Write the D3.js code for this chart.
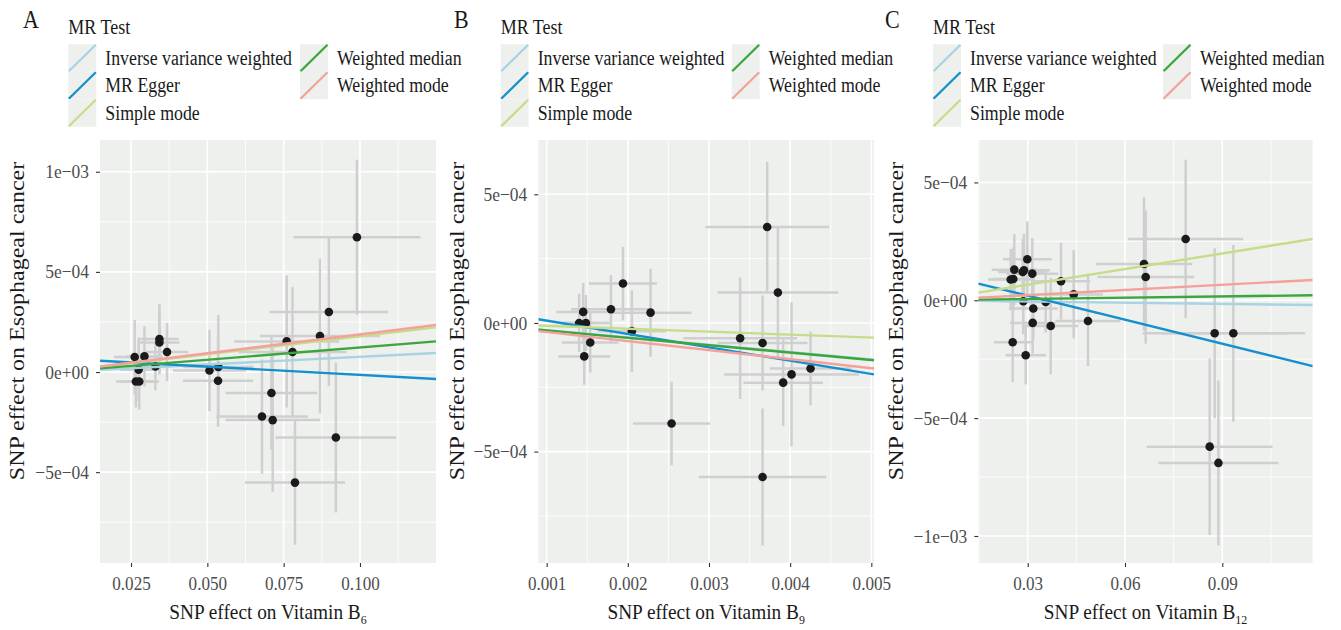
<!DOCTYPE html>
<html>
<head>
<meta charset="utf-8">
<script src="https://cdn.jsdelivr.net/npm/d3@7"></script>
<style>
  body { margin: 0; background: #fff; }
  svg text { font-family: "Liberation Serif", "DejaVu Serif", serif; }
</style>
</head>
<body>
<div id="chart"></div>
<script>
// MR methods, shared by the three panels
var methods = ["Inverse variance weighted", "MR Egger", "Simple mode", "Weighted median", "Weighted mode"];
var methodColors = ["#a8d3e2", "#1590cf", "#c5dd8b", "#3ba63d", "#f4a19b"];

// panel A : vitamin B6
var aX    = [0.0990,0.0898,0.0869,0.0760,0.0779,0.0710,0.0679,0.0714,0.0921,0.0787,0.0507,0.0536,0.0535,0.0343,0.0343,0.0368,0.0262,0.0294,0.0330,0.0275,0.0266,0.0277];
var aXse  = [0.0208,0.0194,0.0197,0.0172,0.0177,0.0150,0.0150,0.0155,0.0198,0.0164,0.0120,0.0115,0.0115,0.0063,0.0066,0.0070,0.0068,0.0060,0.0055,0.0060,0.0065,0.0065];
var aY    = [6.73e-4,3.0e-4,1.8e-4,1.53e-4,1.0e-4,-1.05e-4,-2.22e-4,-2.4e-4,-3.27e-4,-5.52e-4,8e-6,2.5e-5,-4.35e-5,1.65e-4,1.48e-4,1.0e-4,7.5e-5,7.8e-5,2.8e-5,1.2e-5,-4.7e-5,-4.7e-5];
var aYse  = [3.87e-4,3.7e-4,3.87e-4,3.3e-4,3.25e-4,2.83e-4,2.85e-4,3.58e-4,3.74e-4,3.1e-4,2.03e-4,2.6e-4,2.3e-4,1.75e-4,1.6e-4,1.45e-4,1.85e-4,1.5e-4,1.2e-4,1.6e-4,1.3e-4,1.4e-4];
var aSlope = [7.6e-4, -8.31e-4, 1.785e-3, 1.225e-3, 1.88e-3];
var aIntercept = [0, 6.88e-5, 0, 0, 0];
var aXTicks = [0.025, 0.050, 0.075, 0.100];
var aXLabels = ["0.025", "0.050", "0.075", "0.100"];
var aYTicks = [1e-3, 5e-4, 0, -5e-4];
var aYLabels = ["1e\u221203", "5e\u221204", "0e+00", "\u22125e\u221204"];

// panel B : vitamin B9
var bX    = [0.003717,0.003849,0.003384,0.00366,0.003914,0.004017,0.004251,0.00366,0.002539,0.00194,0.001792,0.00228,0.00205,0.00145,0.0014,0.001484,0.001537,0.001463];
var bXse  = [0.000761,0.000745,0.0007,0.000554,0.000489,0.00083,0.0005,0.000784,0.000476,0.000419,0.00049,0.000505,0.00042,0.00033,0.00022,0.00029,0.00035,0.00032];
var bY    = [3.73e-4,1.18e-4,-5.95e-5,-7.8e-5,-2.32e-4,-2.0e-4,-1.77e-4,-5.99e-4,-3.91e-4,1.53e-4,5.3e-5,4.0e-5,-3.2e-5,4.3e-5,0,0,-7.6e-5,-1.3e-4];
var bYse  = [2.53e-4,2.58e-4,2.36e-4,1.85e-4,1.68e-4,2.8e-4,1.43e-4,2.66e-4,1.62e-4,1.43e-4,1.32e-4,1.71e-4,1.59e-4,1.12e-4,1.13e-4,1.09e-4,1.17e-4,1.1e-4];
var bSlope = [-0.0283, -0.05186, -0.01133, -0.0288, -0.03523];
var bIntercept = [0, 6.09e-5, 0, 0, 0];
var bXTicks = [0.001, 0.002, 0.003, 0.004, 0.005];
var bXLabels = ["0.001", "0.002", "0.003", "0.004", "0.005"];
var bYTicks = [5e-4, 0, -5e-4];
var bYLabels = ["5e\u221204", "0e+00", "\u22125e\u221204"];

// panel C : vitamin B12
var cX    = [0.0787,0.06586,0.06638,0.08765,0.0934,0.0861,0.0888,0.02988,0.02587,0.02846,0.02886,0.03142,0.02476,0.02556,0.04027,0.04418,0.02864,0.03555,0.03173,0.03154,0.03709,0.04859,0.02537,0.02938];
var cXse  = [0.01773,0.0149,0.0149,0.02226,0.0222,0.0194,0.0185,0.0075,0.007,0.0075,0.008,0.008,0.007,0.0065,0.009,0.009,0.007,0.008,0.0075,0.007,0.0085,0.01,0.0058,0.0062];
var cY    = [2.6e-4,1.54e-4,9.9e-5,-1.4e-4,-1.4e-4,-6.21e-4,-6.9e-4,1.74e-4,1.3e-4,1.2e-4,1.27e-4,1.13e-4,8.8e-5,9.0e-5,8.1e-5,2.5e-5,-4e-6,-7e-6,-3.5e-5,-9.6e-5,-1.09e-4,-8.8e-5,-1.78e-4,-2.33e-4];
var cYse  = [3.36e-4,2.83e-4,2.83e-4,3.61e-4,3.75e-4,3.75e-4,3.5e-4,1.6e-4,1.5e-4,1.4e-4,1.55e-4,1.5e-4,1.3e-4,1.35e-4,1.63e-4,1.87e-4,1.4e-4,1.3e-4,1.3e-4,1.3e-4,2.05e-4,1.91e-4,1.7e-4,1.24e-4];
var cSlope = [-1.7e-4, -3.395e-3, 2.206e-3, 1.8e-4, 7.3e-4];
var cIntercept = [0, 1.211e-4, 0, 0, 0];
var cXTicks = [0.03, 0.06, 0.09];
var cXLabels = ["0.03", "0.06", "0.09"];
var cYTicks = [5e-4, 0, -5e-4, -1e-3];
var cYLabels = ["5e\u221204", "0e+00", "\u22125e\u221204", "\u22121e\u221203"];

var width = 1341, height = 630;
var panelTop = 140, panelBottom = 563;
var panelBg = "#eef0ee";

var svg = d3.select("#chart").append("svg")
    .attr("width", width)
    .attr("height", height);

// text that looks a bit taller than wide, like the reference
function addText(parent, x, y, str, size, sx, anchor, color) {
  var g = parent.append("g")
      .attr("transform", "translate(" + x + "," + y + ") scale(" + sx + ",1)");
  return g.append("text")
      .attr("font-size", size)
      .attr("text-anchor", anchor || "start")
      .attr("fill", color || "#1a1a1a")
      .text(str);
}

function drawPanel(p) {
  var x = d3.scaleLinear().domain(p.xDomain).range([p.left, p.right]);
  var y = d3.scaleLinear().domain(p.yDomain).range([panelBottom, panelTop]);
  var g = svg.append("g");

  g.append("rect")
    .attr("x", p.left).attr("y", panelTop)
    .attr("width", p.right - p.left).attr("height", panelBottom - panelTop)
    .attr("fill", panelBg);

  // minor gridlines
  g.selectAll(".xminor").data(p.xMinor).enter().append("line")
    .attr("x1", function(d) { return x(d); }).attr("x2", function(d) { return x(d); })
    .attr("y1", panelTop).attr("y2", panelBottom)
    .attr("stroke", "#fff").attr("stroke-width", 0.8);
  g.selectAll(".yminor").data(p.yMinor).enter().append("line")
    .attr("y1", function(d) { return y(d); }).attr("y2", function(d) { return y(d); })
    .attr("x1", p.left).attr("x2", p.right)
    .attr("stroke", "#fff").attr("stroke-width", 0.8);
  // major gridlines
  g.selectAll(".xmajor").data(p.xTicks).enter().append("line")
    .attr("x1", function(d) { return x(d); }).attr("x2", function(d) { return x(d); })
    .attr("y1", panelTop).attr("y2", panelBottom)
    .attr("stroke", "#fff").attr("stroke-width", 1.6);
  g.selectAll(".ymajor").data(p.yTicks).enter().append("line")
    .attr("y1", function(d) { return y(d); }).attr("y2", function(d) { return y(d); })
    .attr("x1", p.left).attr("x2", p.right)
    .attr("stroke", "#fff").attr("stroke-width", 1.6);

  var pts = p.xs.map(function(v, i) {
    return { x: v, xse: p.xse[i], y: p.ys[i], yse: p.yse[i] };
  });

  var clipId = "clip" + p.name;
  svg.append("clipPath").attr("id", clipId).append("rect")
    .attr("x", p.left).attr("y", panelTop)
    .attr("width", p.right - p.left).attr("height", panelBottom - panelTop);
  var inner = g.append("g").attr("clip-path", "url(#" + clipId + ")");

  // error bars
  inner.selectAll(".ev").data(pts).enter().append("line")
    .attr("x1", function(d) { return x(d.x); }).attr("x2", function(d) { return x(d.x); })
    .attr("y1", function(d) { return y(d.y - d.yse); }).attr("y2", function(d) { return y(d.y + d.yse); })
    .attr("stroke", "#cfcfcf").attr("stroke-width", 2.5);
  inner.selectAll(".eh").data(pts).enter().append("line")
    .attr("x1", function(d) { return x(d.x - d.xse); }).attr("x2", function(d) { return x(d.x + d.xse); })
    .attr("y1", function(d) { return y(d.y); }).attr("y2", function(d) { return y(d.y); })
    .attr("stroke", "#cfcfcf").attr("stroke-width", 2.5);

  inner.selectAll(".pt").data(pts).enter().append("circle")
    .attr("cx", function(d) { return x(d.x); })
    .attr("cy", function(d) { return y(d.y); })
    .attr("r", 4.3)
    .attr("fill", "#1a1a1a");

  // fitted MR lines across the panel
  var x0 = p.xDomain[0], x1 = p.xDomain[1];
  methods.forEach(function(m, i) {
    inner.append("line")
      .attr("x1", x(x0)).attr("y1", y(p.intercept[i] + p.slope[i] * x0))
      .attr("x2", x(x1)).attr("y2", y(p.intercept[i] + p.slope[i] * x1))
      .attr("stroke", methodColors[i])
      .attr("stroke-width", 2.4);
  });

  // axes
  var xAxis = g.append("g")
    .attr("transform", "translate(0," + panelBottom + ")")
    .call(d3.axisBottom(x).tickValues(p.xTicks)
      .tickFormat(function(d, i) { return p.xLabels[i]; })
      .tickSize(4).tickPadding(10));
  var yAxis = g.append("g")
    .attr("transform", "translate(" + p.left + ",0)")
    .call(d3.axisLeft(y).tickValues(p.yTicks)
      .tickFormat(function(d, i) { return p.yLabels[i]; })
      .tickSize(4).tickPadding(8));
  [xAxis, yAxis].forEach(function(a) {
    a.select(".domain").remove();
    a.selectAll(".tick line").attr("stroke", "#333").attr("stroke-width", 1.1);
    a.selectAll(".tick text")
      .attr("fill", "#4d4d4d")
      .attr("font-size", 19)
      .attr("font-family", "Liberation Serif, serif");
  });
  xAxis.selectAll(".tick text").attr("transform", "scale(0.9,1)");
  yAxis.selectAll(".tick text").attr("transform", "scale(0.92,1)");

  // x title with subscript
  var cx = (p.left + p.right) / 2;
  var xt = addText(g, cx, 619, "SNP effect on Vitamin B", 21, 0.92, "middle");
  xt.append("tspan").attr("font-size", 13).attr("dy", 5).text(p.sub);

  // y title
  var yt = g.append("g")
    .attr("transform", "translate(" + (p.titleX) + ",321) rotate(-90) scale(1,0.84)");
  yt.append("text")
    .attr("font-size", 24)
    .attr("text-anchor", "middle")
    .attr("fill", "#1a1a1a")
    .text("SNP effect on Esophageal cancer");

  // panel letter
  addText(svg, p.letterX, 28, p.name, 25, 0.88, "start");

  // legend
  var lg = svg.append("g");
  addText(lg, p.legX, 34, "MR Test", 20, 0.9, "start");
  var keyW = 28, keyH = 27.5, rowTop = 44.3;
  methods.forEach(function(m, i) {
    var col = i < 3 ? 0 : 1;
    var row = i < 3 ? i : i - 3;
    var kx = col === 0 ? p.legX : p.legX2;
    var ky = rowTop + row * keyH;
    lg.append("rect")
      .attr("x", kx).attr("y", ky).attr("width", keyW).attr("height", keyH)
      .attr("fill", panelBg);
    lg.append("line")
      .attr("x1", kx + 0.5).attr("y1", ky + keyH - 0.5)
      .attr("x2", kx + keyW - 0.5).attr("y2", ky + 0.5)
      .attr("stroke", methodColors[i]).attr("stroke-width", 2.3);
    addText(lg, kx + keyW + 9, ky + keyH / 2 + 6.5, m, 20, 0.89, "start");
  });
}

drawPanel({
  name: "A", sub: "6",
  left: 100, right: 436,
  xDomain: [0.01484, 0.1249], yDomain: [-9.535e-4, 1.1585e-3],
  xTicks: aXTicks, xLabels: aXLabels, yTicks: aYTicks, yLabels: aYLabels,
  xMinor: [0.0375, 0.0625, 0.0875, 0.1125], yMinor: [7.5e-4, 2.5e-4, -2.5e-4, -7.5e-4],
  xs: aX, xse: aXse, ys: aY, yse: aYse, slope: aSlope, intercept: aIntercept,
  titleX: 24, letterX: 23, legX: 68.3, legX2: 300
});

drawPanel({
  name: "B", sub: "9",
  left: 538.3, right: 874,
  xDomain: [0.000897, 0.005033], yDomain: [-9.33e-4, 7.11e-4],
  xTicks: bXTicks, xLabels: bXLabels, yTicks: bYTicks, yLabels: bYLabels,
  xMinor: [0.0015, 0.0025, 0.0035, 0.0045], yMinor: [2.5e-4, -2.5e-4, -7.5e-4],
  xs: bX, xse: bXse, ys: bY, yse: bYse, slope: bSlope, intercept: bIntercept,
  titleX: 464, letterX: 454, legX: 500.7, legX2: 731.7
});

drawPanel({
  name: "C", sub: "12",
  left: 978.3, right: 1312.7,
  xDomain: [0.01477, 0.11787], yDomain: [-1.1146e-3, 6.8e-4],
  xTicks: cXTicks, xLabels: cXLabels, yTicks: cYTicks, yLabels: cYLabels,
  xMinor: [0.015, 0.045, 0.075, 0.105], yMinor: [2.5e-4, -2.5e-4, -7.5e-4],
  xs: cX, xse: cXse, ys: cY, yse: cYse, slope: cSlope, intercept: cIntercept,
  titleX: 903, letterX: 885, legX: 933, legX2: 1163
});
</script>
</body>
</html>
